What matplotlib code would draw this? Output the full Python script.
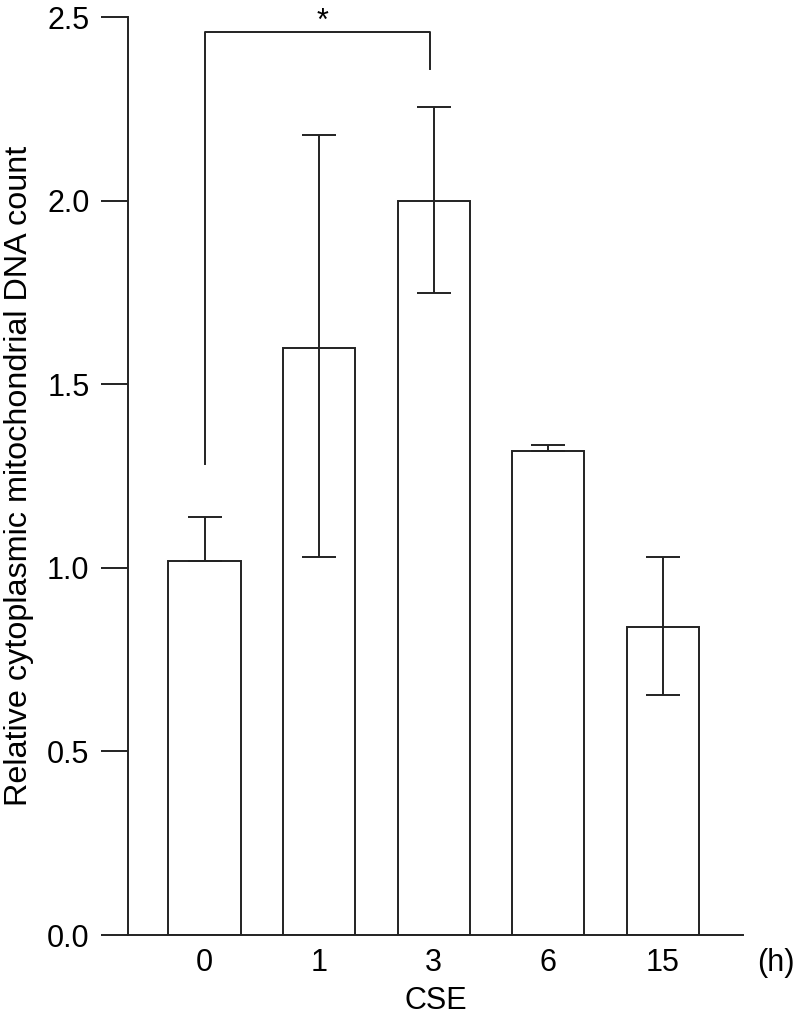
import numpy as np
import matplotlib
matplotlib.use("Agg")
import matplotlib.pyplot as plt

plt.rcParams['font.family'] = ['Liberation Sans', 'DejaVu Sans']

# data
hours = ['0', '1', '3', '6', '15']
means = [1.02, 1.60, 2.00, 1.32, 0.84]
err_upper = [0.12, 0.58, 0.256, 0.015, 0.19]
err_lower = [0.0, 0.57, 0.25, 0.0, 0.185]
yticks = [0.0, 0.5, 1.0, 1.5, 2.0, 2.5]

# significance bracket between 0 h and 3 h
sig_pair = (0, 2)
sig_left_base = 1.283
sig_right_base = 2.36
sig_top = 2.46
sig_label = '*'

lw = 1.4
fs = 22

fig = plt.figure(figsize=(8, 10.23), dpi=100)
ax = fig.add_axes([0.1596, 0.086, 0.929 - 0.1596, 0.983 - 0.086])

x = np.arange(len(hours))
ax.bar(x, means, width=0.63, color='white', edgecolor='#222222', linewidth=lw, zorder=2)
ax.errorbar(x, means, yerr=[err_lower, err_upper], fmt='none', ecolor='#222222',
            elinewidth=lw, capsize=12.2, capthick=lw, zorder=3)

# bracket
x0, x1 = x[sig_pair[0]], x[sig_pair[1]] - 0.03
ax.plot([x0, x0, x1, x1], [sig_left_base, sig_top, sig_top, sig_right_base],
        color='#222222', lw=lw, clip_on=False, zorder=3)
ax.text((x0 + x1) / 2 + 0.04, sig_top - 0.012, sig_label, ha='center', va='bottom',
        fontsize=fs, clip_on=False)

ax.set_xlim(-0.671, 4.70)
ax.set_ylim(0, 2.5)
ax.set_yticks(yticks)
ax.set_yticklabels([f'{t:.1f}' for t in yticks])
ax.set_xticks(x)
ax.set_xticklabels(hours)

for s in ['top', 'right']:
    ax.spines[s].set_visible(False)
for s in ['left', 'bottom']:
    ax.spines[s].set_linewidth(lw)
    ax.spines[s].set_color('#222222')

ax.tick_params(axis='y', length=19.5, width=lw, color='#222222', pad=8, labelsize=fs)
ax.tick_params(axis='x', length=0, pad=9, labelsize=fs)

ax.set_ylabel('Relative cytoplasmic mitochondrial DNA count', fontsize=23.3, labelpad=9)
ax.set_xlabel('CSE', fontsize=fs, labelpad=6)
ax.text(1.053, -0.0307, '(h)', transform=ax.transAxes, ha='center', va='center', fontsize=fs)

fig.savefig('out.png', dpi=100)
